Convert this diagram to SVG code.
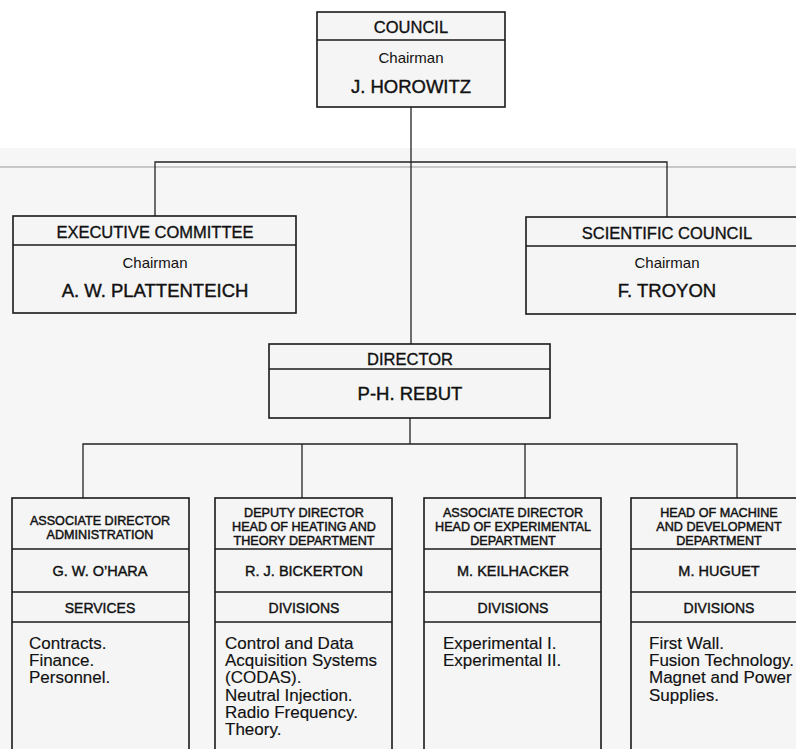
<svg xmlns="http://www.w3.org/2000/svg" width="796" height="749" viewBox="0 0 796 749">
<style>
text{font-family:"Liberation Sans",Arial,sans-serif;fill:#111;text-anchor:middle}
.box{fill:#f5f5f5;stroke:#1a1a1a;stroke-width:1.6}
.div{stroke:#1a1a1a;stroke-width:1.4}
.con{fill:none;stroke:#222;stroke-width:1.3}
.h{font-size:16.5px;stroke:#111;stroke-width:0.35}
.c{font-size:15px}
.n{font-size:18.5px;stroke:#111;stroke-width:0.4}
.bt{font-size:12.6px;stroke:#111;stroke-width:0.45}
.bn{font-size:14.5px;stroke:#111;stroke-width:0.4}
.bd{font-size:14px;stroke:#111;stroke-width:0.4}
.li{font-size:17px;text-anchor:start;stroke:#111;stroke-width:0.15}
</style>
<rect x="0" y="0" width="796" height="749" fill="#f6f6f6"/>
<rect x="0" y="0" width="796" height="148" fill="#ffffff"/>
<line x1="0" y1="167" x2="796" y2="167" stroke="#9a9a9a" stroke-width="1"/>

<g id="connectors">
<polyline class="con" points="411,107 411,344"/>
<polyline class="con" points="155,216 155,162 667,162 667,217"/>
<polyline class="con" points="410,418 410,444"/>
<polyline class="con" points="83,498 83,444 737,444 737,498"/>
<line class="con" x1="302" y1="444" x2="302" y2="498"/>
<line class="con" x1="525" y1="444" x2="525" y2="498"/>
</g>

<g id="council">
<rect class="box" x="317" y="12" width="188" height="95"/>
<line class="div" x1="317" y1="40" x2="505" y2="40"/>
<text class="h" x="411" y="33">COUNCIL</text>
<text class="c" x="411" y="63">Chairman</text>
<text class="n" x="411" y="93">J. HOROWITZ</text>
</g>

<g id="executive-committee">
<rect class="box" x="13" y="216" width="283" height="97"/>
<line class="div" x1="13" y1="245" x2="296" y2="245"/>
<text class="h" x="155" y="238">EXECUTIVE COMMITTEE</text>
<text class="c" x="155" y="268">Chairman</text>
<text class="n" x="155" y="297">A. W. PLATTENTEICH</text>
</g>

<g id="scientific-council">
<rect class="box" x="526" y="217" width="290" height="97"/>
<line class="div" x1="526" y1="246" x2="816" y2="246"/>
<text class="h" x="667" y="239">SCIENTIFIC COUNCIL</text>
<text class="c" x="667" y="268">Chairman</text>
<text class="n" x="667" y="297">F. TROYON</text>
</g>

<g id="director">
<rect class="box" x="269" y="344" width="281" height="74"/>
<line class="div" x1="269" y1="369" x2="550" y2="369"/>
<text class="h" x="410" y="365">DIRECTOR</text>
<text class="n" x="410" y="400">P-H. REBUT</text>
</g>

<g id="administration">
<rect class="box" x="12" y="498" width="177" height="270"/>
<line class="div" x1="12" y1="549" x2="189" y2="549"/>
<line class="div" x1="12" y1="592" x2="189" y2="592"/>
<line class="div" x1="12" y1="622" x2="189" y2="622"/>
<text class="bt" x="100" y="525">ASSOCIATE DIRECTOR</text>
<text class="bt" x="100" y="539">ADMINISTRATION</text>
<text class="bn" x="100" y="576">G. W. O’HARA</text>
<text class="bd" x="100" y="613">SERVICES</text>
<text class="li" x="29" y="649">Contracts.</text>
<text class="li" x="29" y="666">Finance.</text>
<text class="li" x="29" y="683">Personnel.</text>
</g>

<g id="heating-theory">
<rect class="box" x="215" y="498" width="177" height="270"/>
<line class="div" x1="215" y1="549" x2="392" y2="549"/>
<line class="div" x1="215" y1="592" x2="392" y2="592"/>
<line class="div" x1="215" y1="622" x2="392" y2="622"/>
<text class="bt" x="304" y="517">DEPUTY DIRECTOR</text>
<text class="bt" x="304" y="531">HEAD OF HEATING AND</text>
<text class="bt" x="304" y="545">THEORY DEPARTMENT</text>
<text class="bn" x="304" y="576">R. J. BICKERTON</text>
<text class="bd" x="304" y="613">DIVISIONS</text>
<text class="li" x="225" y="649">Control and Data</text>
<text class="li" x="225" y="666">Acquisition Systems</text>
<text class="li" x="225" y="683">(CODAS).</text>
<text class="li" x="225" y="701">Neutral Injection.</text>
<text class="li" x="225" y="718">Radio Frequency.</text>
<text class="li" x="225" y="735">Theory.</text>
</g>

<g id="experimental">
<rect class="box" x="424" y="498" width="177" height="270"/>
<line class="div" x1="424" y1="549" x2="601" y2="549"/>
<line class="div" x1="424" y1="592" x2="601" y2="592"/>
<line class="div" x1="424" y1="622" x2="601" y2="622"/>
<text class="bt" x="513" y="517">ASSOCIATE DIRECTOR</text>
<text class="bt" x="513" y="531">HEAD OF EXPERIMENTAL</text>
<text class="bt" x="513" y="545">DEPARTMENT</text>
<text class="bn" x="513" y="576">M. KEILHACKER</text>
<text class="bd" x="513" y="613">DIVISIONS</text>
<text class="li" x="443" y="649">Experimental I.</text>
<text class="li" x="443" y="666">Experimental II.</text>
</g>

<g id="machine-development">
<rect class="box" x="631" y="498" width="190" height="270"/>
<line class="div" x1="631" y1="549" x2="821" y2="549"/>
<line class="div" x1="631" y1="592" x2="821" y2="592"/>
<line class="div" x1="631" y1="622" x2="821" y2="622"/>
<text class="bt" x="719" y="517">HEAD OF MACHINE</text>
<text class="bt" x="719" y="531">AND DEVELOPMENT</text>
<text class="bt" x="719" y="545">DEPARTMENT</text>
<text class="bn" x="719" y="576">M. HUGUET</text>
<text class="bd" x="719" y="613">DIVISIONS</text>
<text class="li" x="649" y="649">First Wall.</text>
<text class="li" x="649" y="666">Fusion Technology.</text>
<text class="li" x="649" y="683">Magnet and Power</text>
<text class="li" x="649" y="701">Supplies.</text>
</g>
</svg>
